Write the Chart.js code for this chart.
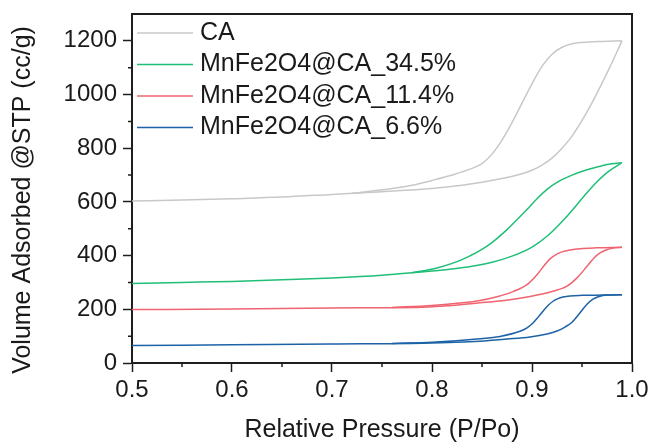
<!DOCTYPE html>
<html>
<head>
<meta charset="utf-8">
<script src="https://cdn.jsdelivr.net/npm/chart.js@4/dist/chart.umd.min.js"></script>
<style>
  body { margin: 0; background: #fff; }
  canvas { display: block; }
</style>
</head>
<body>
<canvas id="isoterma" width="651" height="443"></canvas>
<script>
// series names and colours
const nomes = ['CA', 'MnFe2O4@CA_34.5%', 'MnFe2O4@CA_11.4%', 'MnFe2O4@CA_6.6%'];
const cores = ['#c8c8c8', '#1fbf78', '#ef6470', '#1d62a6'];

// axis ticks
const ticksX = [0.5, 0.6, 0.7, 0.8, 0.9, 1.0];
const ticksY = [0, 200, 400, 600, 800, 1000, 1200];
const menoresX = [0.55, 0.65, 0.75, 0.85, 0.95];
const menoresY = [100, 300, 500, 700, 900, 1100];

// CA: adsorption / desorption branches (P/Po, cc/g)
const caAdsP = [0.50, 0.55, 0.60, 0.65, 0.70, 0.75, 0.80, 0.83, 0.85, 0.87, 0.89, 0.90, 0.91, 0.92, 0.93, 0.94, 0.955, 0.975, 0.99];
const caAdsV = [603, 607, 612, 618, 628, 638, 650, 662, 673, 687, 705, 718, 737, 763, 800, 845, 935, 1080, 1200];
const caDesP = [0.72, 0.75, 0.78, 0.80, 0.82, 0.84, 0.85, 0.86, 0.87, 0.88, 0.89, 0.90, 0.91, 0.92, 0.93, 0.94, 0.95, 0.97, 0.99];
const caDesV = [632, 645, 662, 680, 700, 725, 743, 778, 830, 895, 968, 1040, 1105, 1150, 1176, 1189, 1194, 1198, 1200];

// MnFe2O4@CA_34.5%
const c345AdsP = [0.50, 0.55, 0.60, 0.65, 0.70, 0.75, 0.78, 0.82, 0.84, 0.86, 0.88, 0.90, 0.915, 0.935, 0.955, 0.965, 0.975, 0.983, 0.99];
const c345AdsV = [296, 300, 304, 310, 317, 327, 336, 350, 360, 375, 398, 432, 472, 547, 634, 675, 709, 730, 746];
const c345DesP = [0.78, 0.805, 0.83, 0.855, 0.875, 0.895, 0.905, 0.915, 0.925, 0.94, 0.955, 0.97, 0.98, 0.99];
const c345DesV = [336, 354, 385, 435, 497, 572, 612, 647, 673, 700, 720, 735, 742, 746];

// MnFe2O4@CA_11.4%
const c114AdsP = [0.50, 0.60, 0.70, 0.79, 0.82, 0.848, 0.865, 0.898, 0.921, 0.935, 0.945, 0.955, 0.962, 0.968, 0.974, 0.98, 0.99];
const c114AdsV = [199, 201, 205, 208, 214, 224, 230, 248, 267, 286, 317, 360, 391, 410, 421, 427, 431];
const c114DesP = [0.76, 0.80, 0.83, 0.848, 0.865, 0.881, 0.895, 0.905, 0.912, 0.918, 0.924, 0.93, 0.938, 0.948, 0.965, 0.99];
const c114DesV = [207, 214, 224, 233, 247, 266, 292, 329, 362, 388, 404, 414, 421, 426, 429, 431];

// MnFe2O4@CA_6.6%
const c66AdsP = [0.50, 0.60, 0.70, 0.79, 0.848, 0.875, 0.898, 0.915, 0.925, 0.933, 0.94, 0.948, 0.955, 0.961, 0.967, 0.975, 0.99];
const c66AdsV = [65, 68, 71, 74, 81, 89, 97, 108, 119, 134, 152, 187, 219, 238, 248, 253, 254];
const c66DesP = [0.76, 0.80, 0.848, 0.868, 0.888, 0.895, 0.901, 0.906, 0.911, 0.916, 0.921, 0.926, 0.931, 0.938, 0.95, 0.97, 0.99];
const c66DesV = [73, 77, 90, 99, 118, 131, 149, 170, 193, 214, 230, 240, 246, 250, 252, 253, 254];

const fonte = '"Liberation Sans", Arial, sans-serif';
const corTexto = '#1a1a1a';
const corEixo = '#1e1e1e';

function pontos(p, v) {
    return p.map((x, i) => ({ x: x, y: v[i] }));
}

function serie(label, cor, p, v) {
    return {
        label: label,
        data: pontos(p, v),
        borderColor: cor,
        backgroundColor: cor,
        borderWidth: 1.5,
        pointRadius: 0,
        fill: false,
        cubicInterpolationMode: 'monotone'
    };
}

// only the adsorption branch carries the name shown in the legend
const datasets = [
    serie(nomes[0], cores[0], caAdsP, caAdsV),
    serie('', cores[0], caDesP, caDesV),
    serie(nomes[1], cores[1], c345AdsP, c345AdsV),
    serie('', cores[1], c345DesP, c345DesV),
    serie(nomes[2], cores[2], c114AdsP, c114AdsV),
    serie('', cores[2], c114DesP, c114DesV),
    serie(nomes[3], cores[3], c66AdsP, c66AdsV),
    serie('', cores[3], c66DesP, c66DesV)
];

// frame on top/right, minor ticks and the rotated y title
const moldura = {
    id: 'moldura',
    afterDraw(chart) {
        const { ctx, chartArea: a, scales } = chart;
        ctx.save();
        ctx.strokeStyle = corEixo;
        ctx.lineWidth = 2;
        ctx.beginPath();
        ctx.moveTo(a.left, a.top);
        ctx.lineTo(a.right, a.top);
        ctx.lineTo(a.right, a.bottom);
        ctx.stroke();

        ctx.lineWidth = 1.5;
        ctx.beginPath();
        menoresY.forEach(v => {
            const py = scales.y.getPixelForValue(v);
            ctx.moveTo(a.left - 4, py);
            ctx.lineTo(a.left, py);
        });
        menoresX.forEach(v => {
            const px = scales.x.getPixelForValue(v);
            ctx.moveTo(px, a.bottom);
            ctx.lineTo(px, a.bottom + 4);
        });
        ctx.stroke();

        ctx.translate(30, 200);
        ctx.rotate(-Math.PI / 2);
        ctx.font = '25px ' + fonte;
        ctx.fillStyle = corTexto;
        ctx.textAlign = 'center';
        ctx.textBaseline = 'alphabetic';
        ctx.fillText('Volume Adsorbed @STP (cc/g)', 0, 0);
        ctx.restore();
    }
};

// legend drawn inside the plot, top-left
const legenda = {
    id: 'legendaInterna',
    afterDatasetsDraw(chart) {
        const { ctx, chartArea: a } = chart;
        ctx.save();
        ctx.font = '25px ' + fonte;
        ctx.textBaseline = 'middle';
        ctx.fillStyle = corTexto;
        let y = a.top + 19;
        chart.data.datasets.forEach(ds => {
            if (!ds.label) return;
            ctx.strokeStyle = ds.borderColor;
            ctx.lineWidth = 1.5;
            ctx.beginPath();
            ctx.moveTo(a.left + 5, y);
            ctx.lineTo(a.left + 61, y);
            ctx.stroke();
            ctx.fillText(ds.label, a.left + 68, y);
            y += 31.5;
        });
        ctx.restore();
    }
};

const ctx = document.getElementById('isoterma').getContext('2d');

new Chart(ctx, {
    type: 'line',
    data: { datasets: datasets },
    options: {
        responsive: false,
        animation: false,
        layout: { padding: { top: 14, right: 19, left: 0, bottom: 0 } },
        plugins: {
            legend: { display: false },
            tooltip: { enabled: false }
        },
        scales: {
            x: {
                type: 'linear',
                min: 0.5,
                max: 1.0,
                afterBuildTicks: s => { s.ticks = ticksX.map(v => ({ value: v })); },
                afterFit: s => {
                    s.height = 80;
                    s.paddingLeft = 0;
                    s.paddingRight = 0;
                },
                grid: { drawOnChartArea: false, tickLength: 9, tickColor: corEixo, tickWidth: 1.5 },
                border: { color: corEixo, width: 2 },
                ticks: {
                    color: corTexto,
                    font: { family: fonte, size: 24 },
                    padding: 4,
                    maxRotation: 0,
                    callback: v => v.toFixed(1)
                },
                title: {
                    display: true,
                    text: 'Relative Pressure (P/Po)',
                    color: corTexto,
                    font: { family: fonte, size: 25, lineHeight: 1 },
                    padding: { top: 0, bottom: 0 }
                }
            },
            y: {
                min: 0,
                max: 1300,
                afterBuildTicks: s => { s.ticks = ticksY.map(v => ({ value: v })); },
                afterFit: s => {
                    s.width = 132;
                    s.paddingTop = 0;
                    s.paddingBottom = 0;
                },
                grid: { drawOnChartArea: false, tickLength: 9, tickColor: corEixo, tickWidth: 1.5 },
                border: { color: corEixo, width: 2 },
                ticks: {
                    color: corTexto,
                    font: { family: fonte, size: 24 },
                    padding: 6,
                    callback: v => String(v)
                },
                title: { display: false }
            }
        }
    },
    plugins: [moldura, legenda]
});
</script>
</body>
</html>
